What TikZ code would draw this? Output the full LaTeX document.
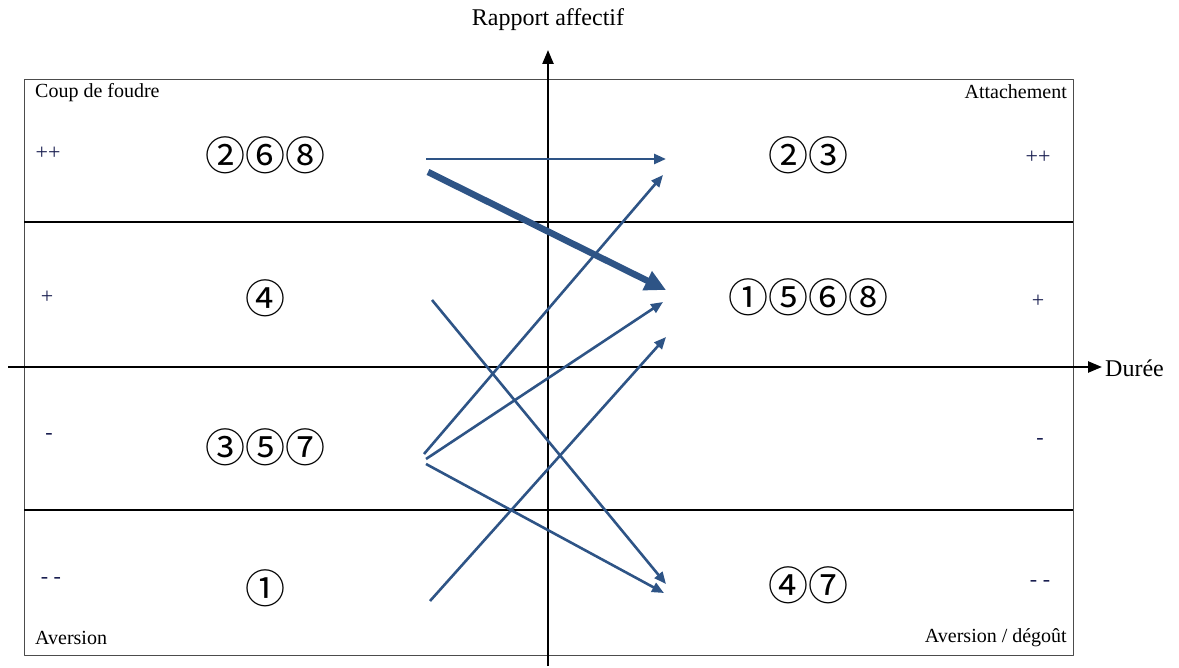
\documentclass[tikz,border=0pt]{standalone}
\usepackage{fontspec}
\setmainfont{Liberation Serif}
\newfontfamily\circfont{Noto Sans CJK JP}
\usetikzlibrary{arrows.meta}
\definecolor{flowblue}{RGB}{46,84,134}
\definecolor{signblue}{RGB}{25,30,80}

\begin{document}
\begin{tikzpicture}[x=1pt,y=-1pt,line join=round,
  flow/.style={draw=flowblue,line width=2.6pt,-{Triangle[length=12pt,width=10pt]}},
  bigflow/.style={draw=flowblue,line width=6.5pt,-{Triangle[length=21pt,width=20pt]}},
  group/.style={font=\circfont\fontsize{40}{44}\selectfont,inner sep=0pt},
  sign/.style={font=\fontsize{22}{24}\selectfont,text=signblue,inner sep=0pt},
  corner/.style={font=\fontsize{20}{22}\selectfont,inner sep=0pt},
  axlabel/.style={font=\fontsize{24}{26}\selectfont,inner sep=0pt}]
\path[use as bounding box] (0,0) rectangle (1179,668);
\draw[black!70,line width=1pt] (24,80) rectangle (1073,655);
\draw[line width=1.6pt] (24,222) -- (1073,222);
\draw[line width=1.3pt] (24,510) -- (1073,510);
\draw[line width=2.4pt,-{Triangle[length=14pt,width=11pt]}] (8,367) -- (1102,367);
\draw[line width=2.4pt,-{Triangle[length=14pt,width=11pt]}] (548,666) -- (548,50);
\node[axlabel] (vlab) at (548,20) {Rapport affectif};
\node[axlabel,anchor=west] (hlab) at (1105,368) {Durée};
\node[corner,anchor=west] (c1) at (35,93) {Coup de foudre};
\node[corner,anchor=east] (c2) at (1067,92) {Attachement};
\node[corner,anchor=west] (c3) at (35,638) {Aversion};
\node[corner,anchor=east] (c4) at (1067,638) {Aversion / dégoût};
\node[sign] (sl1) at (48,153) {++};
\node[sign] (sl2) at (47,297) {+};
\node[sign] (sl3) at (49,436) {-};
\node[sign] (sl4) at (51,580) {- -};
\node[sign] (sr1) at (1038,157) {++};
\node[sign] (sr2) at (1038,301) {+};
\node[sign] (sr3) at (1040,441) {-};
\node[sign] (sr4) at (1040,583) {- -};
\node[group] (g268) at (265,155) {②⑥⑧};
\node[group] (g4) at (265,298) {④};
\node[group] (g357) at (265,447) {③⑤⑦};
\node[group] (g1) at (265,588) {①};
\node[group] (d23) at (808,155) {②③};
\node[group] (d1568) at (808,297) {①⑤⑥⑧};
\node[group] (d47) at (808,585) {④⑦};
\coordinate (a1) at (426,159);
\coordinate (b1) at (666,159);
\coordinate (a2) at (428,172);
\coordinate (b2) at (666,290);
\coordinate (a3) at (432,300);
\coordinate (b3) at (666,584);
\coordinate (a4) at (424,454);
\coordinate (b4) at (663,175);
\coordinate (a5) at (426,459);
\coordinate (b5) at (663,302);
\coordinate (a6) at (426,464);
\coordinate (b6) at (664,593);
\coordinate (a7) at (430,601);
\coordinate (b7) at (666,337);
\draw[flow] (a1) -- (b1);
\draw[bigflow] (a2) -- (b2);
\draw[flow] (a3) -- (b3);
\draw[flow] (a4) -- (b4);
\draw[flow] (a5) -- (b5);
\draw[flow] (a6) -- (b6);
\draw[flow] (a7) -- (b7);
\end{tikzpicture}
\end{document}
